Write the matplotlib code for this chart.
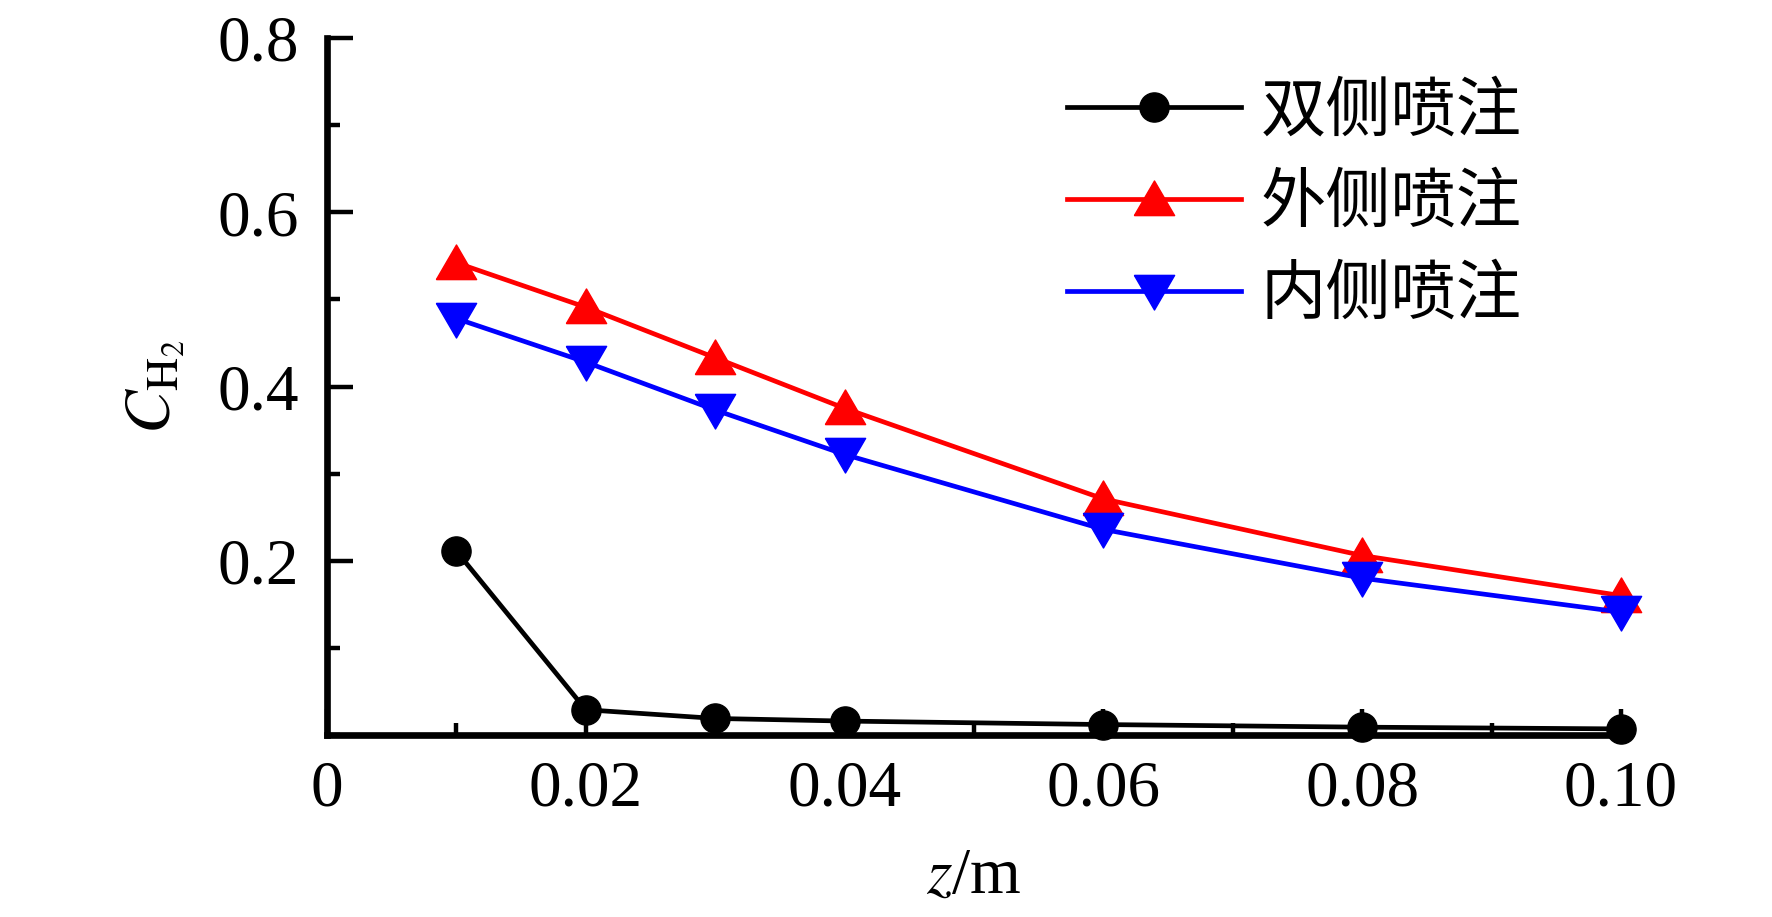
import numpy as np
import matplotlib
matplotlib.use('Agg')
import matplotlib.pyplot as plt
from matplotlib.ticker import MultipleLocator, FixedLocator, FixedFormatter

plt.rcParams['font.family'] = ['Liberation Serif', 'Noto Sans CJK SC', 'DejaVu Sans']
plt.rcParams['mathtext.fontset'] = 'stix'

# data
z = [0.01, 0.02, 0.03, 0.04, 0.06, 0.08, 0.10]
both_sides = [0.211, 0.029, 0.019, 0.016, 0.012, 0.009, 0.007]
outer_side = [0.542, 0.491, 0.433, 0.375, 0.271, 0.206, 0.160]
inner_side = [0.478, 0.428, 0.373, 0.322, 0.236, 0.180, 0.141]
labels = ['双侧喷注', '外侧喷注', '内侧喷注']

xticks = [0, 0.02, 0.04, 0.06, 0.08, 0.10]
xticklabels = ['0', '0.02', '0.04', '0.06', '0.08', '0.10']
yticks = [0.2, 0.4, 0.6, 0.8]
yticklabels = ['0.2', '0.4', '0.6', '0.8']

fig = plt.figure(figsize=(17.72, 9.17), dpi=100)
ax = fig.add_axes([327/1772, 1-735/917, (1621-327)/1772, (735-38)/917])

# equilateral-ish triangles like Origin's
up_tri = [(-1, -0.8), (1, -0.8), (0, 0.92), (-1, -0.8)]
down_tri = [(-1, 0.8), (1, 0.8), (0, -0.92), (-1, 0.8)]

ax.plot(z, both_sides, color='black', lw=3.4, marker='o', ms=21, label=labels[0], clip_on=False, zorder=3)
ax.plot(z, outer_side, color='#ff0000', lw=3.4, marker=up_tri, ms=29, label=labels[1], clip_on=False, zorder=3)
ax.plot(z, inner_side, color='#0000ff', lw=3.4, marker=down_tri, ms=29, label=labels[2], clip_on=False, zorder=3)

ax.set_xlim(0, 0.10)
ax.set_ylim(0, 0.8)

ax.xaxis.set_major_locator(FixedLocator(xticks))
ax.xaxis.set_major_formatter(FixedFormatter(xticklabels))
ax.xaxis.set_minor_locator(MultipleLocator(0.01))
ax.yaxis.set_major_locator(FixedLocator(yticks))
ax.yaxis.set_major_formatter(FixedFormatter(yticklabels))
ax.yaxis.set_minor_locator(MultipleLocator(0.1))

for s in ['top', 'right']:
    ax.spines[s].set_visible(False)
for s in ['left', 'bottom']:
    ax.spines[s].set_linewidth(4.8)

ax.tick_params(which='major', direction='in', length=19, width=3.2, labelsize=47)
ax.tick_params(which='minor', direction='in', length=9, width=3.2)
ax.tick_params(axis='y', which='major', pad=20)
ax.tick_params(axis='x', which='major', pad=18)

ax.set_xlabel(r'$z$/m', fontsize=47, labelpad=20)
ax.set_ylabel(r'$C_{\mathrm{H}_2}$', fontsize=47, labelpad=22)

leg = ax.legend(loc='upper left', bbox_to_anchor=(1034/1772, 1-46/917), bbox_transform=fig.transFigure,
                frameon=False, borderpad=0, handlelength=2.67, handletextpad=0.3,
                labelspacing=0.39, prop={'family': ['Noto Sans CJK SC'], 'size': 47})

fig.savefig('out.png', dpi=100)
